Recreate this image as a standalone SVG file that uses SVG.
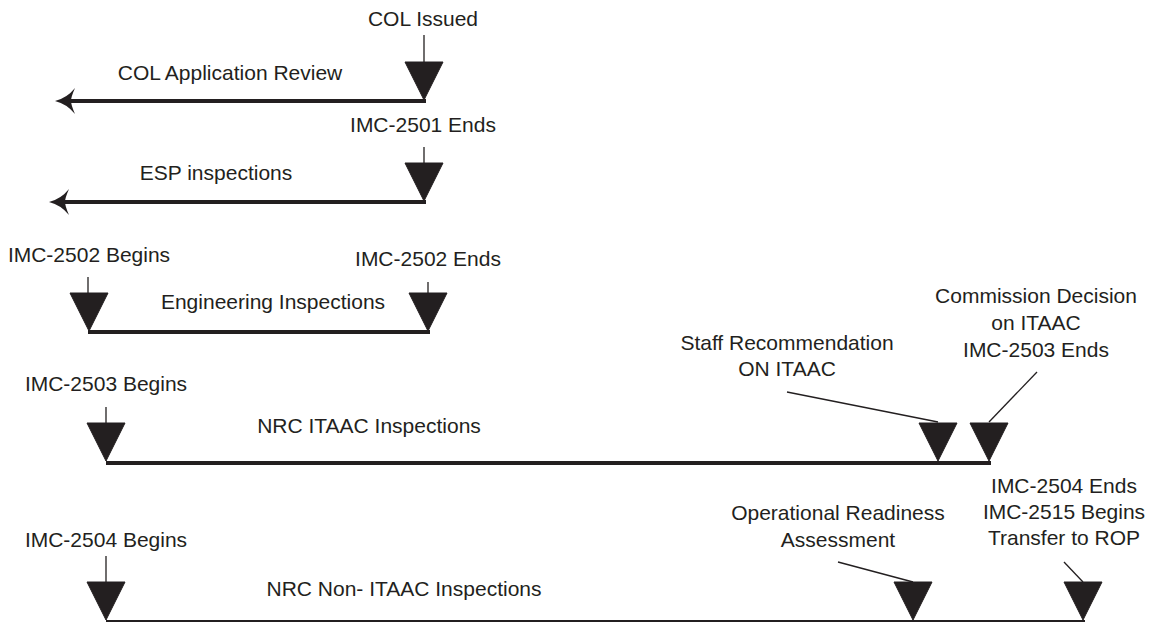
<svg xmlns="http://www.w3.org/2000/svg" xmlns:xlink="http://www.w3.org/1999/xlink" width="1150" height="622" viewBox="0 0 1150 622">
  <style>
    text { font-family: "Liberation Sans", Arial, sans-serif; font-size: 21px; fill: #231f20; text-anchor: middle; }
    .bar { stroke: #231f20; stroke-width: 4; fill: none; stroke-linecap: butt; }
    .stem { stroke: #231f20; stroke-width: 1.3; fill: none; }
    .tri { fill: #231f20; stroke: #231f20; stroke-width: 1; stroke-linejoin: round; }
    .head { fill: #231f20; }
  </style>
  <defs>
    <path id="tri" d="M-19,-38 L19,-38 L0,0 Z"/>
    <path id="head" d="M0,0 Q12,-3 20,-13 Q16,-4 16,0 Q16,4 20,13 Q12,3 0,0 Z"/>
  </defs>
  <rect width="1150" height="622" fill="#ffffff"/>

  <g id="connectors">
    <line class="bar" x1="62" y1="101" x2="426" y2="101"/>
    <line class="bar" x1="56" y1="202" x2="426" y2="202"/>
    <line class="bar" x1="88" y1="332" x2="430" y2="332"/>
    <line class="bar" x1="106" y1="463" x2="991" y2="463"/>
    <line class="bar" x1="106" y1="622" x2="1085" y2="622"/>
    <use href="#head" class="head" transform="translate(55,101)"/>
    <use href="#head" class="head" transform="translate(49,202)"/>
    <line class="stem" x1="787" y1="392" x2="938" y2="422"/>
    <line class="stem" x1="1037" y1="372" x2="989" y2="422"/>
    <line class="stem" x1="838" y1="562" x2="913" y2="582"/>
    <line class="stem" x1="1064" y1="562" x2="1083" y2="582"/>
  </g>

  <g id="col-issued">
    <text x="423" y="26">COL Issued</text>
    <line class="stem" x1="424" y1="35" x2="424" y2="62"/>
    <use href="#tri" class="tri" transform="translate(424,100)"/>
  </g>
  <g id="col-review">
    <text x="230" y="80">COL Application Review</text>
  </g>

  <g id="imc2501-ends">
    <text x="423" y="132">IMC-2501 Ends</text>
    <line class="stem" x1="424" y1="147" x2="424" y2="164"/>
    <use href="#tri" class="tri" transform="translate(424,201)"/>
  </g>
  <g id="esp">
    <text x="216" y="180">ESP inspections</text>
  </g>

  <g id="imc2502-begins">
    <text x="89" y="262">IMC-2502 Begins</text>
    <line class="stem" x1="88" y1="277" x2="88" y2="293"/>
    <use href="#tri" class="tri" transform="translate(89,331)"/>
  </g>
  <g id="imc2502-ends">
    <text x="428" y="266">IMC-2502 Ends</text>
    <line class="stem" x1="428" y1="282" x2="428" y2="293"/>
    <use href="#tri" class="tri" transform="translate(428,331)"/>
  </g>
  <g id="engineering">
    <text x="273" y="309">Engineering Inspections</text>
  </g>

  <g id="imc2503-begins">
    <text x="106" y="391">IMC-2503 Begins</text>
    <line class="stem" x1="106" y1="407" x2="106" y2="423"/>
    <use href="#tri" class="tri" transform="translate(106,461)"/>
  </g>
  <g id="nrc-itaac">
    <text x="369" y="433">NRC ITAAC Inspections</text>
  </g>
  <g id="staff-rec">
    <text x="787" y="350">Staff Recommendation</text>
    <text x="787" y="376">ON ITAAC</text>
    <use href="#tri" class="tri" transform="translate(938,461)"/>
  </g>
  <g id="commission">
    <text x="1036" y="303">Commission Decision</text>
    <text x="1036" y="330">on ITAAC</text>
    <text x="1036" y="357">IMC-2503 Ends</text>
    <use href="#tri" class="tri" transform="translate(989,461)"/>
  </g>

  <g id="imc2504-begins">
    <text x="106" y="547">IMC-2504 Begins</text>
    <line class="stem" x1="106" y1="556" x2="106" y2="583"/>
    <use href="#tri" class="tri" transform="translate(106,620)"/>
  </g>
  <g id="nrc-non-itaac">
    <text x="404" y="596">NRC Non- ITAAC Inspections</text>
  </g>
  <g id="ora">
    <text x="838" y="520">Operational Readiness</text>
    <text x="838" y="547">Assessment</text>
    <use href="#tri" class="tri" transform="translate(913,620)"/>
  </g>
  <g id="imc2504-ends">
    <text x="1064" y="493">IMC-2504 Ends</text>
    <text x="1064" y="519">IMC-2515 Begins</text>
    <text x="1064" y="545">Transfer to ROP</text>
    <use href="#tri" class="tri" transform="translate(1083,620)"/>
  </g>
</svg>
